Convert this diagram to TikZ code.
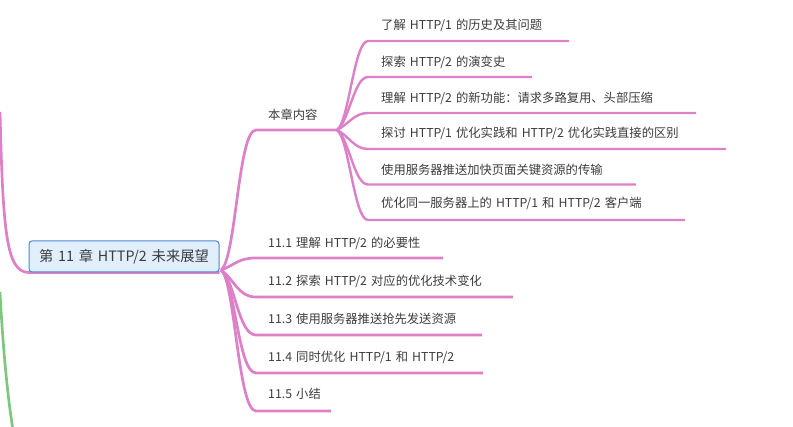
\documentclass[tikz,border=0pt]{standalone}
\usepackage{fontspec}
\setmainfont{Noto Sans CJK SC}[WordSpace=1.5]
\usetikzlibrary{backgrounds}
\definecolor{pinkline}{RGB}{222,128,200}
\definecolor{greenline}{RGB}{125,200,125}
\definecolor{txt}{RGB}{60,60,60}
\definecolor{rootfill}{RGB}{225,239,252}
\definecolor{rootdraw}{RGB}{74,134,216}
\begin{document}
\begin{tikzpicture}[x=1pt,y=-1pt,
  br/.style={draw=pinkline,line width=2.7pt},
  subbr/.style={draw=pinkline,line width=2.4pt},
  gbr/.style={draw=greenline,line width=2.7pt},
  lbl/.style={anchor=west,inner sep=0pt,text=txt,font=\fontsize{12.3}{14}\selectfont},
  rootbox/.style={draw=rootdraw,fill=rootfill,rounded corners=3pt,minimum width=190pt,minimum height=31pt,inner sep=0pt,line width=1pt,text=txt,font=\fontsize{14.3}{17}\selectfont}]
\useasboundingbox (0,0) rectangle (793,427);
\clip (0,0) rectangle (793,427);

% root
\node[rootbox] (root) at (124,256.5) {第 11 章 HTTP/2 未来展望};

% level 1 labels
\node[lbl] (k)  at (268,115) {本章内容};
\node[lbl] (a1) at (268,243) {11.1 理解 HTTP/2 的必要性};
\node[lbl] (a2) at (268,281) {11.2 探索 HTTP/2 对应的优化技术变化};
\node[lbl] (a3) at (268,319) {11.3 使用服务器推送抢先发送资源};
\node[lbl] (a4) at (268,357) {11.4 同时优化 HTTP/1 和 HTTP/2};
\node[lbl] (a5) at (268,394) {11.5 小结};

% level 2 labels
\node[lbl] (b1) at (381,25)  {了解 HTTP/1 的历史及其问题};
\node[lbl] (b2) at (381,62)  {探索 HTTP/2 的演变史};
\node[lbl] (b3) at (381,98)  {理解 HTTP/2 的新功能：请求多路复用、头部压缩};
\node[lbl] (b4) at (381,133) {探讨 HTTP/1 优化实践和 HTTP/2 优化实践直接的区别};
\node[lbl] (b5) at (381,170) {使用服务器推送加快页面关键资源的传输};
\node[lbl] (b6) at (381,203) {优化同一服务器上的 HTTP/1 和 HTTP/2 客户端};

% coordinates
\coordinate (lt) at (0,112);
\coordinate (gt) at (0,292);
\coordinate (gb) at (13,430);
\coordinate (o1) at (221,270);
\coordinate (ks) at (256,130);  \coordinate (ke) at (337,130);
\coordinate (a1s) at (256,258); \coordinate (a1e) at (443,258);
\coordinate (a2s) at (256,297); \coordinate (a2e) at (513,297);
\coordinate (a3s) at (256,335); \coordinate (a3e) at (482,335);
\coordinate (a4s) at (256,373); \coordinate (a4e) at (483,373);
\coordinate (a5s) at (256,411); \coordinate (a5e) at (331,411);
\coordinate (b1s) at (368,41);    \coordinate (b1e) at (569,41);
\coordinate (b2s) at (368,77);    \coordinate (b2e) at (532,77);
\coordinate (b3s) at (368,113);   \coordinate (b3e) at (696,113);
\coordinate (b4s) at (368,149);   \coordinate (b4e) at (726,149);
\coordinate (b5s) at (368,184.5); \coordinate (b5e) at (636,184.5);
\coordinate (b6s) at (368,220);   \coordinate (b6e) at (685,220);

\begin{scope}[on background layer]
  % incoming from off-picture parent
  \draw[br] (lt) .. controls (3,230) and (6,272) .. (root.south west) -- (root.south east);
  \draw[gbr] (gt) .. controls (3,350) and (8,400) .. (gb);
  % level 1
  \draw[br] (o1) .. controls +(15,-10) and +(-18,0) .. (ks) -- (ke);
  \draw[br] (o1) .. controls +(14,-5) and +(-18,0) .. (a1s) -- (a1e);
  \draw[br] (o1) .. controls +(14,10) and +(-18,0) .. (a2s) -- (a2e);
  \draw[br] (o1) .. controls +(14,10) and +(-18,0) .. (a3s) -- (a3e);
  \draw[br] (o1) .. controls +(14,10) and +(-18,0) .. (a4s) -- (a4e);
  \draw[br] (o1) .. controls +(14,10) and +(-18,0) .. (a5s) -- (a5e);
  % level 2
  \draw[subbr] (ke) .. controls +(12,-8) and +(-14,0) .. (b1s) -- (b1e);
  \draw[subbr] (ke) .. controls +(12,-8) and +(-14,0) .. (b2s) -- (b2e);
  \draw[subbr] (ke) .. controls +(12,-6) and +(-14,0) .. (b3s) -- (b3e);
  \draw[subbr] (ke) .. controls +(12,6) and +(-14,0) .. (b4s) -- (b4e);
  \draw[subbr] (ke) .. controls +(12,8) and +(-14,0) .. (b5s) -- (b5e);
  \draw[subbr] (ke) .. controls +(12,8) and +(-14,0) .. (b6s) -- (b6e);
\end{scope}
\end{tikzpicture}
\end{document}
